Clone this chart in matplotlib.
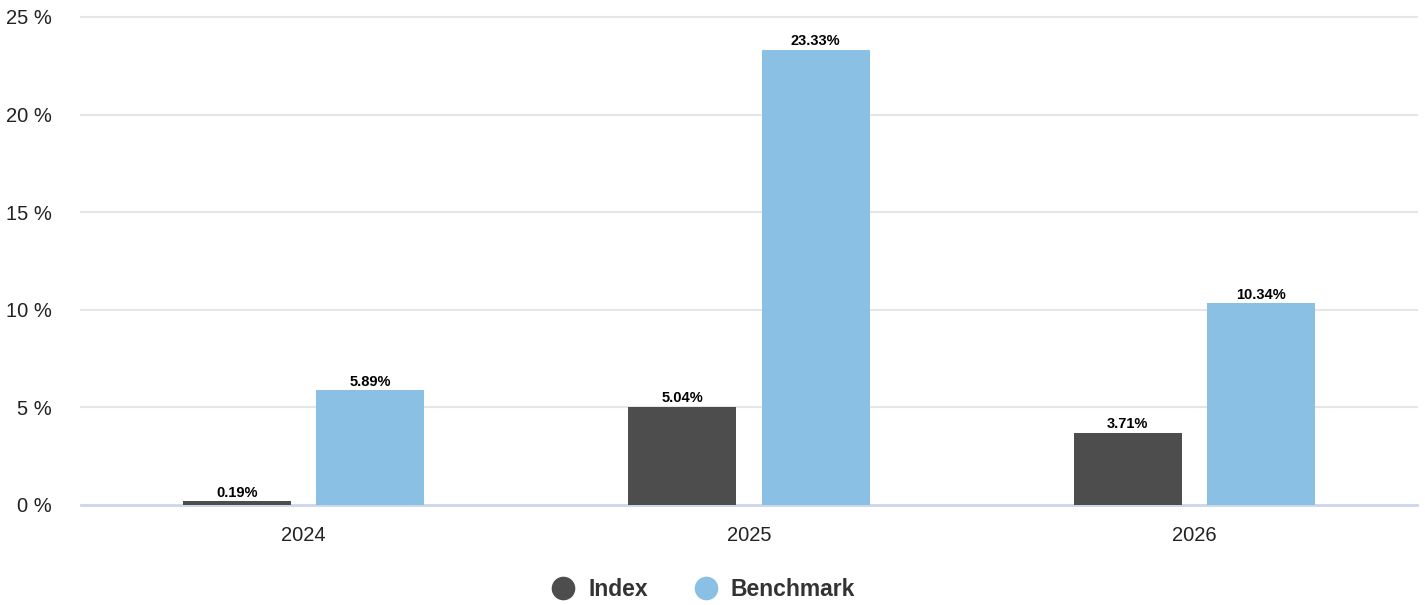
import matplotlib.pyplot as plt
from matplotlib.lines import Line2D
import numpy as np

plt.rcParams['font.family'] = ['Liberation Sans', 'DejaVu Sans']

years = ['2024', '2025', '2026']
index_vals = [0.19, 5.04, 3.71]
bench_vals = [5.89, 23.33, 10.34]
y_ticks = [0, 5, 10, 15, 20, 25]

index_color = '#4d4d4d'
bench_color = '#89c0e4'

fig = plt.figure(figsize=(14.25, 6.05), dpi=100)
ax = fig.add_axes([81 / 1425, 1 - 505 / 605, 1336 / 1425, 488 / 605])

x = np.arange(len(years))
w = 0.2425
off = 0.15
b1 = ax.bar(x - off, index_vals, w, color=index_color, zorder=3)
b2 = ax.bar(x + off, bench_vals, w, color=bench_color, zorder=3)

# value labels on top of every bar
for bars, vals in [(b1, index_vals), (b2, bench_vals)]:
    for rect, v in zip(bars, vals):
        ax.annotate('%.2f%%' % v, (rect.get_x() + rect.get_width() / 2, v),
                    xytext=(0, 1), textcoords='offset points',
                    ha='center', va='bottom', fontsize=10.5,
                    fontweight='bold', color='#000000', zorder=4)

ax.set_xlim(-0.5, 2.5)
ax.set_ylim(0, 25)
ax.set_xticks(x)
ax.set_xticklabels(years)
ax.set_yticks(y_ticks)
ax.set_yticklabels(['%d %%' % t for t in y_ticks])
ax.tick_params(axis='y', length=0, pad=21, labelsize=14.5, labelcolor='#222222')
ax.tick_params(axis='x', length=0, pad=15, labelsize=14.5, labelcolor='#222222')

for t in y_ticks[1:]:
    ax.axhline(t, color='#e6e6e6', lw=1.5, zorder=1, clip_on=False)
ax.axhline(0, color='#ccd6eb', lw=2, zorder=2, clip_on=False)

for s in ax.spines.values():
    s.set_visible(False)

handles = [Line2D([], [], marker='o', ls='', markersize=16, color=index_color),
           Line2D([], [], marker='o', ls='', markersize=16, color=bench_color)]
leg = fig.legend(handles, ['Index', 'Benchmark'], loc='center',
                 bbox_to_anchor=(0.4937, 1 - 590 / 605), ncol=2, frameon=False,
                 prop={'size': 16.5, 'weight': 'bold'}, handletextpad=0.6,
                 columnspacing=2.0, handlelength=1.0)
for t in leg.get_texts():
    t.set_color('#333333')

fig.savefig('out.png', dpi=100)
